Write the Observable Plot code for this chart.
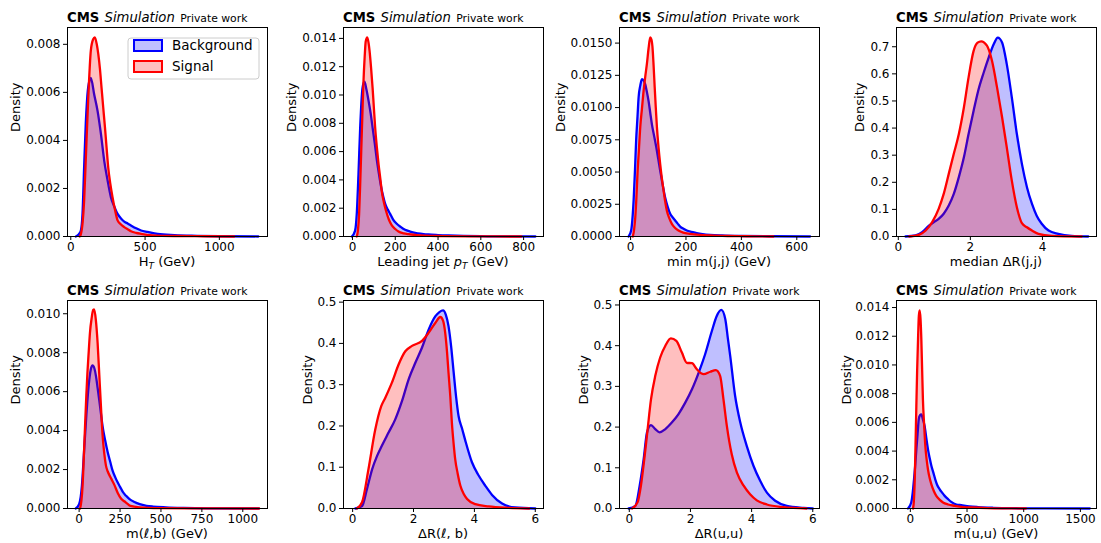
<!DOCTYPE html>
<html>
<head>
<meta charset="utf-8">
<script src="https://cdn.jsdelivr.net/npm/d3@7"></script>
<script src="https://cdn.jsdelivr.net/npm/@observablehq/plot@0.6"></script>
<style>
  html, body { margin: 0; padding: 0; background: #ffffff; }
  #chart { position: relative; width: 1101px; height: 543px; overflow: hidden; font-family: "DejaVu Sans", sans-serif; }
  #chart svg { position: absolute; }
</style>
</head>
<body>
<div id="chart"></div>
<script>
// ---------------- data: [value, density] ----------------
const seriesNames = ["Background", "Signal"];

const htBackground = [[34,0],[55,0.0001],[68,0.00025],[79,0.00094],[90,0.0029],[101,0.0047],[117,0.0062],[135,0.0066],[158,0.0059],[180,0.00524],[203,0.00427],[225,0.00316],[248,0.00233],[270,0.00164],[293,0.00125],[315,0.00094],[338,0.00075],[360,0.00062],[383,0.00054],[405,0.00046],[440,0.00034],[473,0.00025],[518,0.00019],[585,0.00011],[698,0.00006],[850,0.00003],[1000,0.00001],[1262,0]];
const htSignal = [[60,0],[68,0.0001],[80,0.0006],[90,0.0015],[101,0.0032],[117,0.00566],[135,0.00774],[150,0.0082],[162,0.00829],[175,0.008],[185,0.0076],[196,0.007],[207,0.0062],[218,0.0054],[230,0.00455],[241,0.0037],[252,0.00288],[266,0.0022],[281,0.00164],[298,0.0011],[315,0.00067],[338,0.0005],[360,0.00039],[383,0.0003],[405,0.00022],[440,0.00015],[473,0.00011],[550,0.00005],[700,0.00002],[900,0.00001],[1100,0]];

const ptBackground = [[-3,0],[12,0.0004],[20,0.0016],[28,0.0044],[36,0.0077],[47,0.0105],[56,0.01094],[65,0.0104],[75,0.0096],[85,0.0087],[94,0.0077],[104,0.0066],[114,0.0054],[124,0.0044],[134,0.0035],[144,0.0028],[153,0.0023],[165,0.0019],[176,0.0016],[190,0.0012],[207,0.0009],[225,0.00068],[246,0.00047],[270,0.00035],[293,0.00026],[325,0.00019],[355,0.00014],[400,0.0001],[449,0.00007],[520,0.00004],[600,0.00002],[700,0.00001],[855,0]];
const ptSignal = [[20,0],[26,0.0005],[31,0.0016],[36,0.0037],[41,0.0061],[46,0.0085],[51,0.0108],[57,0.0127],[62,0.0138],[69,0.01407],[75,0.0137],[80,0.0131],[87,0.0119],[94,0.0105],[100,0.0091],[106,0.0077],[114,0.0063],[122,0.0051],[130,0.0041],[137,0.0032],[147,0.0024],[157,0.0018],[170,0.0012],[184,0.00078],[200,0.00053],[215,0.00035],[240,0.00022],[262,0.00016],[300,0.0001],[340,0.00006],[420,0.00003],[550,0.00001],[790,0]];

const mjjBackground = [[-7,0],[2,0.00046],[6,0.0012],[11,0.0028],[16,0.0052],[20,0.0074],[25,0.0093],[29,0.0108],[35,0.0117],[41,0.01221],[47,0.0121],[53,0.0118],[59,0.0112],[65,0.0105],[71,0.0096],[77,0.0087],[85,0.0078],[93,0.0069],[100,0.006],[107,0.0051],[116,0.004],[125,0.003],[134,0.0023],[143,0.00176],[152,0.00148],[161,0.00124],[170,0.001],[179,0.00077],[191,0.0006],[203,0.00046],[220,0.00035],[239,0.00026],[260,0.00019],[287,0.00013],[330,0.00008],[400,0.00004],[500,0.00002],[648,0]];
const mjjSignal = [[8,0],[13,0.0006],[17,0.0015],[21,0.003],[25,0.0049],[30,0.0067],[35,0.0085],[41,0.0099],[47,0.0113],[53,0.0124],[59,0.0134],[65,0.0146],[71,0.01544],[75,0.0153],[79,0.0147],[83,0.0133],[87,0.0116],[91,0.01],[95,0.0085],[101,0.0069],[107,0.0056],[113,0.0045],[119,0.0036],[125,0.0027],[131,0.002],[140,0.0014],[149,0.00098],[160,0.00068],[173,0.00046],[190,0.0003],[215,0.0002],[250,0.00012],[287,0.00008],[350,0.00004],[420,0.00002],[516,0]];

const drjjBackground = [[0.2,0],[0.48,0.004],[0.66,0.016],[0.85,0.04],[0.99,0.053],[1.12,0.065],[1.26,0.084],[1.4,0.114],[1.54,0.157],[1.68,0.219],[1.82,0.292],[1.95,0.378],[2.09,0.464],[2.23,0.544],[2.37,0.605],[2.51,0.661],[2.65,0.71],[2.76,0.734],[2.88,0.716],[3.01,0.636],[3.15,0.513],[3.29,0.378],[3.43,0.268],[3.57,0.182],[3.71,0.12],[3.84,0.077],[3.98,0.047],[4.17,0.022],[4.44,0.01],[4.81,0.0025],[5.27,0]];
const drjjSignal = [[0.3,0],[0.57,0.006],[0.76,0.022],[0.94,0.053],[1.12,0.102],[1.26,0.157],[1.4,0.231],[1.54,0.305],[1.68,0.378],[1.82,0.476],[1.95,0.587],[2.09,0.685],[2.2,0.715],[2.3,0.72],[2.46,0.704],[2.6,0.648],[2.74,0.55],[2.88,0.44],[3.01,0.329],[3.15,0.206],[3.29,0.108],[3.43,0.049],[3.57,0.034],[3.71,0.022],[3.89,0.01],[4.26,0.0025],[5.09,0]];

const mlbBackground = [[-21,0],[0,0.00022],[17,0.00116],[30,0.0029],[45,0.0049],[62,0.0066],[73,0.0072],[82,0.00735],[93,0.0072],[103,0.0068],[113,0.0062],[124,0.0055],[133,0.0049],[143,0.00424],[159,0.0035],[175,0.00287],[190,0.0024],[205,0.00193],[221,0.0016],[236,0.00133],[251,0.0011],[267,0.00085],[287,0.00065],[308,0.00048],[338,0.00033],[370,0.00022],[412,0.00014],[451,0.0001],[530,0.00006],[638,0.00003],[785,0.00001],[1098,0]];
const mlbSignal = [[6,0],[14,0.0004],[21,0.00116],[29,0.0027],[37,0.0044],[44,0.0058],[51,0.007],[59,0.0081],[66,0.009],[77,0.0098],[86,0.0102],[92,0.01022],[102,0.0097],[113,0.0085],[123,0.0069],[133,0.0053],[143,0.0038],[154,0.0028],[164,0.0022],[175,0.0019],[195,0.00155],[216,0.0012],[236,0.0008],[257,0.0005],[278,0.00036],[294,0.00025],[314,0.00013],[370,0.00006],[490,0.00002],[687,0.00001],[1100,0]];

const drlbBackground = [[0.09,0],[0.31,0.006],[0.47,0.047],[0.64,0.095],[0.8,0.127],[0.96,0.152],[1.18,0.184],[1.4,0.216],[1.62,0.26],[1.84,0.313],[2.06,0.353],[2.28,0.39],[2.5,0.434],[2.72,0.466],[2.85,0.476],[2.97,0.48],[3.06,0.47],[3.15,0.442],[3.24,0.39],[3.32,0.329],[3.4,0.27],[3.48,0.224],[3.59,0.195],[3.7,0.165],[3.92,0.112],[4.14,0.08],[4.36,0.055],[4.58,0.033],[4.91,0.012],[5.34,0.0024],[6,0]];
const drlbSignal = [[0.14,0],[0.31,0.015],[0.52,0.095],[0.74,0.19],[0.94,0.248],[1.07,0.268],[1.29,0.305],[1.51,0.349],[1.73,0.381],[1.95,0.394],[2.28,0.406],[2.5,0.426],[2.72,0.45],[2.88,0.464],[2.97,0.455],[3.04,0.426],[3.1,0.38],[3.15,0.329],[3.21,0.27],[3.26,0.208],[3.32,0.155],[3.37,0.119],[3.45,0.085],[3.54,0.055],[3.65,0.035],[3.76,0.023],[4.03,0.0105],[4.47,0.005],[5.12,0.0016],[5.8,0]];

const druuBackground = [[-0.02,0],[0.2,0.0065],[0.34,0.056],[0.47,0.121],[0.58,0.187],[0.71,0.205],[0.85,0.195],[0.99,0.187],[1.18,0.195],[1.39,0.211],[1.61,0.232],[1.83,0.26],[2.05,0.293],[2.27,0.334],[2.48,0.379],[2.7,0.436],[2.86,0.473],[3.01,0.488],[3.14,0.465],[3.22,0.42],[3.3,0.375],[3.46,0.277],[3.63,0.211],[3.84,0.154],[4.06,0.105],[4.28,0.068],[4.5,0.039],[4.77,0.019],[5.15,0.0065],[5.7,0.0016],[6,0]];
const druuSignal = [[0.09,0],[0.27,0.015],[0.38,0.056],[0.49,0.121],[0.6,0.195],[0.71,0.268],[0.85,0.326],[1.01,0.371],[1.18,0.4],[1.36,0.418],[1.54,0.412],[1.72,0.383],[1.88,0.358],[2.05,0.357],[2.21,0.342],[2.43,0.33],[2.65,0.336],[2.83,0.34],[2.97,0.326],[3.08,0.268],[3.19,0.203],[3.35,0.133],[3.52,0.088],[3.74,0.056],[3.95,0.035],[4.17,0.02],[4.5,0.0098],[5.04,0.0033],[5.8,0]];

const muuBackground = [[-21,0],[8,0.00042],[21,0.0011],[32,0.002],[43,0.003],[53,0.0041],[64,0.0052],[74,0.0062],[85,0.0065],[97,0.00656],[111,0.0062],[126,0.00575],[141,0.0049],[156,0.0041],[171,0.0035],[185,0.003],[203,0.0025],[221,0.002],[239,0.0016],[259,0.00134],[281,0.0011],[303,0.00088],[333,0.00065],[361,0.00046],[406,0.00028],[450,0.00023],[520,0.00015],[596,0.0001],[729,0.00005],[891,0.00002],[1145,0.00001],[1583,0]];
const muuSignal = [[24,0],[31,0.0005],[39,0.002],[46,0.0045],[53,0.0071],[60,0.0096],[68,0.0118],[75,0.0134],[82,0.0138],[90,0.0132],[97,0.0118],[104,0.0097],[111,0.0076],[122,0.0058],[132,0.0044],[144,0.0034],[156,0.0027],[171,0.0021],[185,0.0017],[208,0.0012],[229,0.00088],[260,0.0006],[288,0.00042],[333,0.00028],[391,0.00019],[468,0.0001],[538,0.00007],[677,0.00003],[833,0.00001],[1020,0]];

// tick values
const xTicksHT = [0, 500, 1000];
const xTicksPT = [0, 200, 400, 600, 800];
const xTicksMjj = [0, 200, 400, 600];
const xTicksDR4 = [0, 2, 4];
const xTicksMlb = [0, 250, 500, 750, 1000];
const xTicksDR6 = [0, 2, 4, 6];
const xTicksMuu = [0, 500, 1000, 1500];
const yTicks002_008 = [0, 0.002, 0.004, 0.006, 0.008];
const yTicks002_014 = [0, 0.002, 0.004, 0.006, 0.008, 0.010, 0.012, 0.014];
const yTicks0025_015 = [0, 0.0025, 0.005, 0.0075, 0.01, 0.0125, 0.015];
const yTicks01_07 = [0, 0.1, 0.2, 0.3, 0.4, 0.5, 0.6, 0.7];
const yTicks002_010 = [0, 0.002, 0.004, 0.006, 0.008, 0.010];
const yTicks01_05 = [0, 0.1, 0.2, 0.3, 0.4, 0.5];

// x-axis labels as text segments (sub = subscript, it = italic)
const xLabelHT = [{t: "H"}, {t: "T", sub: true, it: true}, {t: " (GeV)"}];
const xLabelPT = [{t: "Leading jet "}, {t: "p", it: true}, {t: "T", sub: true, it: true}, {t: " (GeV)"}];
const xLabelMjj = [{t: "min m(j,j) (GeV)"}];
const xLabelDRjj = [{t: "median ΔR(j,j)"}];
const xLabelMlb = [{t: "m(ℓ,b) (GeV)"}];
const xLabelDRlb = [{t: "ΔR(ℓ, b)"}];
const xLabelDRuu = [{t: "ΔR(u,u)"}];
const xLabelMuu = [{t: "m(u,u) (GeV)"}];

// ---------------- panel configuration ----------------
const panels = [
  {row: 0, col: 0, bg: htBackground, sig: htSignal, xDomain: [-22, 1324], yMax: 0.0087, xTicks: xTicksHT, yTicks: yTicks002_008, yDec: 3, labelOffset: 57, xLabel: xLabelHT, legend: true},
  {row: 0, col: 1, bg: ptBackground, sig: ptSignal, xDomain: [-42, 893], yMax: 0.01477, xTicks: xTicksPT, yTicks: yTicks002_014, yDec: 3, labelOffset: 57, xLabel: xLabelPT},
  {row: 0, col: 2, bg: mjjBackground, sig: mjjSignal, xDomain: [-40, 682], yMax: 0.01621, xTicks: xTicksMjj, yTicks: yTicks0025_015, yDec: 4, labelOffset: 64, xLabel: xLabelMjj},
  {row: 0, col: 3, bg: drjjBackground, sig: drjjSignal, xDomain: [-0.05, 5.5], yMax: 0.771, xTicks: xTicksDR4, yTicks: yTicks01_07, yDec: 1, labelOffset: 42, xLabel: xLabelDRjj},
  {row: 1, col: 0, bg: mlbBackground, sig: mlbSignal, xDomain: [-71, 1151], yMax: 0.01068, xTicks: xTicksMlb, yTicks: yTicks002_010, yDec: 3, labelOffset: 57, xLabel: xLabelMlb},
  {row: 1, col: 1, bg: drlbBackground, sig: drlbSignal, xDomain: [-0.3, 6.27], yMax: 0.504, xTicks: xTicksDR6, yTicks: yTicks01_05, yDec: 1, labelOffset: 41, xLabel: xLabelDRlb},
  {row: 1, col: 2, bg: druuBackground, sig: druuSignal, xDomain: [-0.32, 6.22], yMax: 0.511, xTicks: xTicksDR6, yTicks: yTicks01_05, yDec: 1, labelOffset: 41, xLabel: xLabelDRuu},
  {row: 1, col: 3, bg: muuBackground, sig: muuSignal, xDomain: [-122, 1642], yMax: 0.01449, xTicks: xTicksMuu, yTicks: yTicks002_014, yDec: 3, labelOffset: 55, xLabel: xLabelMuu}
];

// ---------------- layout ----------------
const colLeft = [67, 343, 619, 896];
const rowTop = [27, 300];
const rowH = [209, 208];
const W = 200, ML = 70, MR = 5, MT = 22, MB = 35;
const BLUE = "#0000ff", RED = "#ff0000";
const FONT = "DejaVu Sans";

const container = document.getElementById("chart");

function toRows(arr) { return arr.map(([x, y]) => ({x, y})); }

for (const p of panels) {
  const H = rowH[p.row];
  const bg = toRows(p.bg), sig = toRows(p.sig);
  const svg = Plot.plot({
    width: ML + W + MR,
    height: MT + H + MB,
    marginLeft: ML, marginRight: MR, marginTop: MT, marginBottom: MB,
    style: {fontFamily: FONT, fontSize: "12px", color: "black", background: "transparent", overflow: "visible"},
    x: {domain: p.xDomain},
    y: {domain: [0, p.yMax]},
    marks: [
      Plot.areaY(bg, {x: "x", y: "y", fill: BLUE, fillOpacity: 0.25, curve: "monotone-x"}),
      Plot.lineY(bg, {x: "x", y: "y", stroke: BLUE, strokeWidth: 2.3, curve: "monotone-x"}),
      Plot.areaY(sig, {x: "x", y: "y", fill: RED, fillOpacity: 0.25, curve: "monotone-x"}),
      Plot.lineY(sig, {x: "x", y: "y", stroke: RED, strokeWidth: 2.3, curve: "monotone-x"}),
      Plot.frame({stroke: "black", strokeWidth: 1}),
      Plot.axisX({ticks: p.xTicks, tickFormat: d => String(d), tickSize: 4, tickPadding: 2, label: null, fontSize: 12}),
      Plot.axisY({ticks: p.yTicks, tickFormat: d3.format(`.${p.yDec}f`), tickSize: 4, tickPadding: 3, label: null, fontSize: 12}),
      Plot.text(["Density"], {text: d => d, frameAnchor: "left", rotate: -90, dx: -p.labelOffset, lineAnchor: "top", fontSize: 13, fill: "black"})
    ]
  });
  svg.style.left = (colLeft[p.col] - ML) + "px";
  svg.style.top = (rowTop[p.row] - MT) + "px";
  container.appendChild(svg);

  const s = d3.select(svg);

  // title
  const title = s.append("text")
    .attr("x", ML).attr("y", MT - 5)
    .attr("text-anchor", "start")
    .attr("font-family", FONT).attr("fill", "black");
  title.append("tspan").attr("font-size", 13.2).attr("font-weight", "bold").text("CMS");
  title.append("tspan").attr("font-size", 13.2).attr("font-style", "italic").attr("dx", 1).text(" Simulation");
  title.append("tspan").attr("font-size", 10.8).attr("dx", 2).text(" Private work");

  // x label
  const xl = s.append("text")
    .attr("x", ML + W / 2).attr("y", MT + H + 30)
    .attr("text-anchor", "middle")
    .attr("font-family", FONT).attr("font-size", 13).attr("fill", "black");
  let shifted = false;
  for (const seg of p.xLabel) {
    const t = xl.append("tspan").text(seg.t);
    if (seg.it) t.attr("font-style", "italic");
    if (seg.sub) { t.attr("font-size", 9).attr("dy", 2.5); shifted = true; }
    else if (shifted) { t.attr("dy", -2.5); shifted = false; }
  }

  // legend
  if (p.legend) {
    const g = s.append("g").attr("transform", `translate(${ML},${MT})`);
    g.append("rect").attr("x", 61).attr("y", 11).attr("width", 131).attr("height", 41).attr("rx", 3)
      .attr("fill", "white").attr("fill-opacity", 0.8).attr("stroke", "#cccccc").attr("stroke-width", 1);
    const entries = [{name: seriesNames[0], color: BLUE, y: 13, ty: 23}, {name: seriesNames[1], color: RED, y: 34, ty: 43.7}];
    for (const e of entries) {
      g.append("rect").attr("x", 67).attr("y", e.y).attr("width", 28).attr("height", 11)
        .attr("fill", e.color).attr("fill-opacity", 0.25).attr("stroke", e.color).attr("stroke-width", 2);
      g.append("text").attr("x", 105).attr("y", e.ty)
        .attr("text-anchor", "start")
        .attr("font-family", FONT).attr("font-size", 13.5).attr("fill", "black").text(e.name);
    }
  }
}
</script>
</body>
</html>
